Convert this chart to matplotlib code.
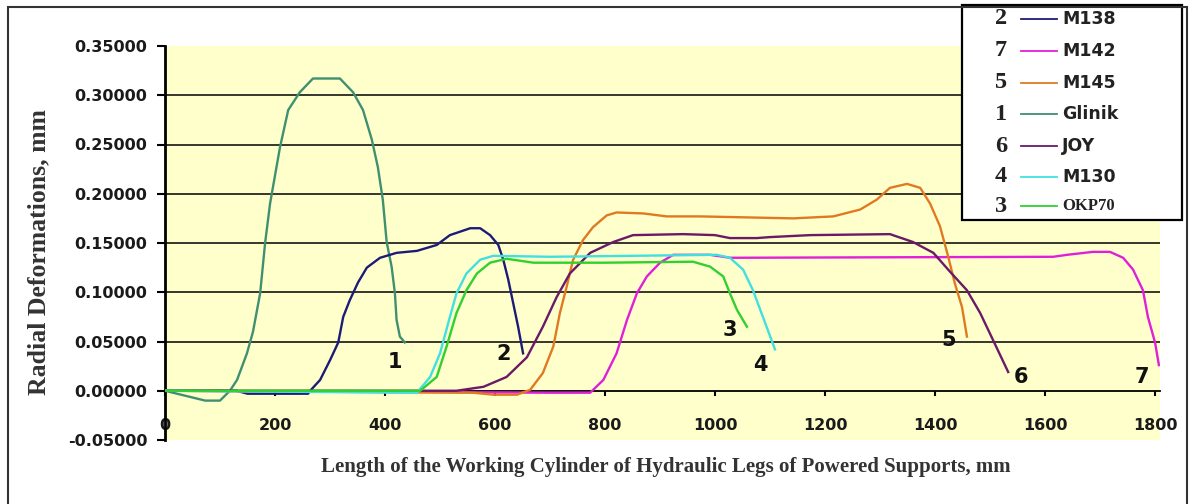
import matplotlib
matplotlib.use("Agg")
import matplotlib.pyplot as plt
from matplotlib.patches import Rectangle
from matplotlib.lines import Line2D

# ---------------- data ----------------
glinik_x = [0, 73, 100, 118, 131, 149, 160, 173, 182, 191, 209, 224, 245, 269, 318, 342, 360, 376, 387, 396, 403, 412, 418, 421, 427, 436]
glinik_y = [0.000, -0.010, -0.010, 0.000, 0.011, 0.038, 0.060, 0.099, 0.150, 0.190, 0.247, 0.285, 0.303, 0.317, 0.317, 0.303, 0.285, 0.255, 0.227, 0.194, 0.151, 0.126, 0.099, 0.072, 0.055, 0.049]

m138_x = [0, 130, 150, 260, 264, 282, 300, 315, 324, 336, 351, 367, 391, 421, 458, 494, 518, 555, 573, 591, 606, 615, 624, 633, 642, 651]
m138_y = [0.000, 0.000, -0.003, -0.003, 0.000, 0.011, 0.031, 0.049, 0.075, 0.092, 0.110, 0.125, 0.135, 0.140, 0.142, 0.148, 0.158, 0.165, 0.165, 0.158, 0.148, 0.133, 0.113, 0.089, 0.065, 0.038]

m142_x = [0, 700, 773, 797, 821, 840, 858, 876, 900, 924, 991, 1027, 1615, 1640, 1687, 1718, 1742, 1760, 1778, 1787, 1800, 1807]
m142_y = [0.000, -0.002, -0.002, 0.011, 0.038, 0.072, 0.099, 0.116, 0.130, 0.138, 0.138, 0.135, 0.136, 0.138, 0.141, 0.141, 0.135, 0.123, 0.102, 0.075, 0.049, 0.026]

m145_x = [0, 560, 597, 640, 664, 687, 706, 718, 730, 742, 760, 778, 803, 821, 870, 912, 973, 1142, 1215, 1264, 1294, 1318, 1349, 1373, 1391, 1409, 1424, 1436, 1449, 1458]
m145_y = [0.000, -0.002, -0.004, -0.004, 0.001, 0.018, 0.045, 0.079, 0.105, 0.133, 0.153, 0.166, 0.178, 0.181, 0.180, 0.177, 0.177, 0.175, 0.177, 0.184, 0.194, 0.206, 0.210, 0.206, 0.190, 0.167, 0.136, 0.109, 0.085, 0.055]

joy_x = [0, 530, 579, 621, 658, 687, 712, 736, 773, 815, 851, 942, 1000, 1027, 1076, 1100, 1173, 1318, 1360, 1397, 1427, 1458, 1482, 1505, 1533]
joy_y = [0.000, 0.000, 0.004, 0.014, 0.034, 0.065, 0.095, 0.119, 0.140, 0.151, 0.158, 0.159, 0.158, 0.155, 0.155, 0.156, 0.158, 0.159, 0.151, 0.140, 0.121, 0.102, 0.079, 0.052, 0.019]

m130_x = [0, 440, 458, 482, 500, 518, 530, 548, 573, 597, 700, 850, 1003, 1027, 1051, 1069, 1087, 1109]
m130_y = [0.000, -0.002, -0.002, 0.014, 0.038, 0.075, 0.099, 0.119, 0.133, 0.137, 0.136, 0.137, 0.138, 0.135, 0.123, 0.102, 0.075, 0.042]

okp70_x = [0, 464, 494, 512, 530, 548, 567, 591, 621, 670, 800, 960, 991, 1015, 1027, 1040, 1058]
okp70_y = [0.000, 0.000, 0.014, 0.045, 0.079, 0.102, 0.119, 0.130, 0.134, 0.130, 0.130, 0.131, 0.126, 0.116, 0.099, 0.082, 0.065]

# legend order: (number, name)
legend_numbers = ["2", "7", "5", "1", "6", "4", "3"]
legend_names = ["M138", "M142", "M145", "Glinik", "JOY", "M130", "OKP70"]

# curve number labels positioned in data units
curve_label_text = ["1", "2", "3", "4", "5", "6", "7"]
curve_label_x = [418, 615, 1027, 1082, 1424, 1556, 1776]
curve_label_y = [0.029, 0.037, 0.062, 0.026, 0.052, 0.014, 0.014]

x_ticks = [0, 200, 400, 600, 800, 1000, 1200, 1400, 1600, 1800]
y_ticks = [-0.05, 0.0, 0.05, 0.10, 0.15, 0.20, 0.25, 0.30, 0.35]
grid_levels = [0.05, 0.10, 0.15, 0.20, 0.25, 0.30]

colors = {
    "M138": "#1c1c78",
    "M142": "#e020d8",
    "M145": "#e07a22",
    "Glinik": "#3f9070",
    "JOY": "#6a1a66",
    "M130": "#40e0e0",
    "OKP70": "#30d030",
}
series = {
    "Glinik": (glinik_x, glinik_y),
    "M138": (m138_x, m138_y),
    "M142": (m142_x, m142_y),
    "M145": (m145_x, m145_y),
    "JOY": (joy_x, joy_y),
    "M130": (m130_x, m130_y),
    "OKP70": (okp70_x, okp70_y),
}

SANS = "DejaVu Sans"
SERIF = "Liberation Serif"

# ---------------- figure ----------------
W, H = 1189, 504
fig = plt.figure(figsize=(W / 100, H / 100), dpi=100)
fig.patch.set_facecolor("white")

ax = fig.add_axes([165 / W, 64 / H, (1160 - 165) / W, (439 - 45) / H])
ax.set_facecolor("#FFFFCC")
ax.set_xlim(0, 1809)
ax.set_ylim(-0.05, 0.35)

for g in grid_levels:
    ax.axhline(g, color="black", lw=1.1, zorder=1)

for name in ["Glinik", "M138", "M142", "M145", "JOY", "M130", "OKP70"]:
    xs, ys = series[name]
    ax.plot(xs, ys, color=colors[name], lw=1.7, zorder=3)

for t, x, y in zip(curve_label_text, curve_label_x, curve_label_y):
    ax.text(x, y, t, fontsize=15, fontweight="bold", family=SANS,
            ha="center", va="center", color="#111111", zorder=4)

for s in ["top", "right"]:
    ax.spines[s].set_visible(False)
ax.spines["left"].set_linewidth(2.0)
ax.spines["bottom"].set_position(("data", 0))
ax.spines["bottom"].set_linewidth(1.3)
ax.spines["bottom"].set_zorder(2)

ax.set_xticks(x_ticks)
ax.set_xticklabels([str(v) for v in x_ticks])
ax.set_yticks(y_ticks)
ax.set_yticklabels(["%.5f" % v for v in y_ticks])
ax.tick_params(axis="x", direction="out", length=3.6, width=1.5, pad=16,
               labelsize=11.5, colors="black")
ax.tick_params(axis="y", direction="out", length=5.8, width=1.5, pad=7,
               labelsize=11.5)
for lab in ax.get_xticklabels() + ax.get_yticklabels():
    lab.set_fontweight("bold")
    lab.set_family(SANS)
    lab.set_color("#1a1a1a")

# axis titles
fig.text(39 / W, 1 - 252 / H, "Radial Deformations, mm", rotation=90,
         ha="center", va="center", fontsize=18.5, fontweight="bold",
         family=SERIF, color="#333333")
fig.text(666 / W, 1 - 467 / H,
         "Length of the Working Cylinder of Hydraulic Legs of Powered Supports, mm",
         ha="center", va="center", fontsize=15, fontweight="bold",
         family=SERIF, color="#333333")

# legend box
lx0, ly0, lx1, ly1 = 962, 5, 1182, 220
fig.add_artist(Rectangle((lx0 / W, 1 - ly1 / H), (lx1 - lx0) / W, (ly1 - ly0) / H,
                         transform=fig.transFigure, facecolor="white",
                         edgecolor="black", lw=1.6, zorder=5))
row_y = [19, 51, 83, 114, 146, 177, 206]
for num, name, ry in zip(legend_numbers, legend_names, row_y):
    fy = 1 - ry / H
    fig.text(1001 / W, fy, num, ha="center", va="center", fontsize=17.5,
             fontweight="bold", family=SERIF, color="#222222", zorder=6)
    fig.add_artist(Line2D([1021 / W, 1057 / W], [fy, fy], transform=fig.transFigure,
                          color=colors[name], lw=1.3, zorder=6))
    if name == "OKP70":
        fig.text(1062 / W, fy, name, ha="left", va="center", fontsize=12,
                 fontweight="bold", family=SERIF, color="#222222", zorder=6)
    else:
        fig.text(1062 / W, fy, name, ha="left", va="center", fontsize=12.5,
                 fontweight="bold", family=SANS, color="#222222", zorder=6)

# outer frame
fig.add_artist(Rectangle((8 / W, -0.1), (1187 - 8) / W, (504 - 7) / H + 0.1,
                         transform=fig.transFigure, facecolor="none",
                         edgecolor="#333333", lw=1.5, zorder=7))

fig.savefig("out.png", dpi=100)
